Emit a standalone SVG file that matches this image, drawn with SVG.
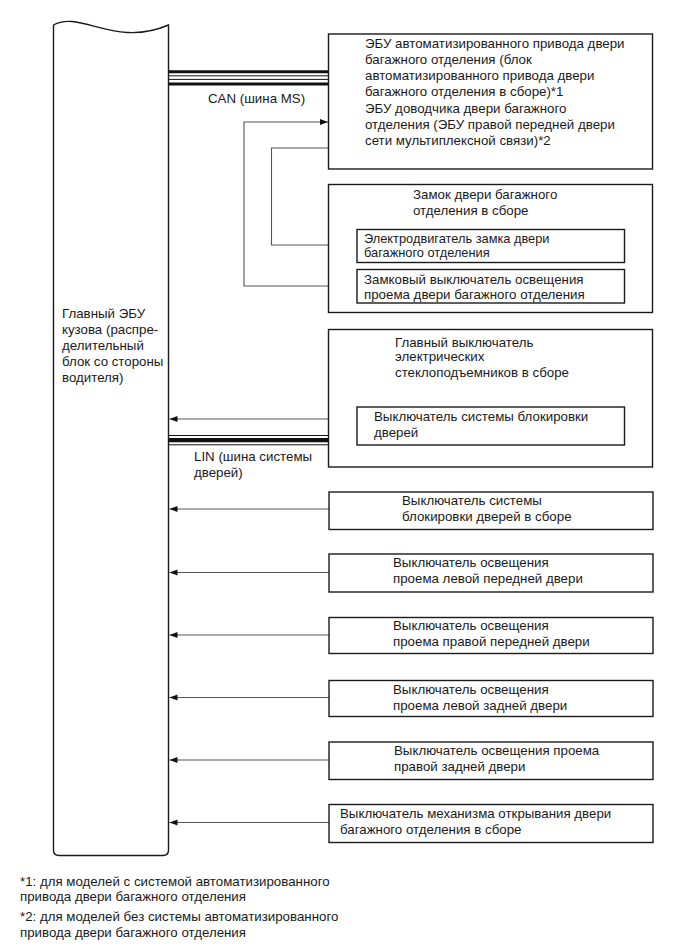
<svg xmlns="http://www.w3.org/2000/svg" width="689" height="951" viewBox="0 0 689 951">
<style>
text{font-family:"Liberation Sans",Arial,sans-serif;font-size:13.3px;fill:#1a1a1a}
.box{fill:#fff;stroke:#1a1a1a;stroke-width:1.4}
.ln{fill:none;stroke:#555;stroke-width:1.1}
.bus{stroke:#111}
.tight{font-size:12.8px}
</style>
<defs>
<marker id="ah" markerUnits="userSpaceOnUse" markerWidth="9" markerHeight="7" refX="8" refY="3.5" orient="auto">
<path d="M0,0.5 L8,3.5 L0,6.5 Z" fill="#111"/>
</marker>
</defs>
<rect width="689" height="951" fill="#fff"/>

<g id="connectors">
<g id="can-bus" class="bus">
<line x1="168.5" y1="71.7" x2="328.5" y2="71.7" stroke-width="3"/>
<line x1="168.5" y1="75.8" x2="328.5" y2="75.8" stroke-width="1"/>
<line x1="168.5" y1="79.4" x2="328.5" y2="79.4" stroke-width="1"/>
<line x1="168.5" y1="84" x2="328.5" y2="84" stroke-width="3"/>
</g>
<g id="lin-bus" class="bus">
<line x1="168.5" y1="435.5" x2="328.5" y2="435.5" stroke-width="1"/>
<line x1="168.5" y1="440.2" x2="328.5" y2="440.2" stroke-width="4.2"/>
<line x1="168.5" y1="444.8" x2="328.5" y2="444.8" stroke-width="1"/>
</g>
<path class="ln" d="M357,286 H244 V122 H328" marker-end="url(#ah)"/>
<path class="ln" d="M328.5,148 H271.5 V245 H356.5" marker-end="url(#ah)"/>
<path class="ln" d="M357,419 H169.5" marker-end="url(#ah)"/>
<path class="ln" d="M329,509 H169.5" marker-end="url(#ah)"/>
<path class="ln" d="M329,572.5 H169.5" marker-end="url(#ah)"/>
<path class="ln" d="M329,635 H169.5" marker-end="url(#ah)"/>
<path class="ln" d="M329,697.5 H169.5" marker-end="url(#ah)"/>
<path class="ln" d="M329,760 H169.5" marker-end="url(#ah)"/>
<path class="ln" d="M329,822.5 H169.5" marker-end="url(#ah)"/>
</g>

<g id="main-ecu">
<path class="box" d="M53.5,25 C80,10 115,48 168.5,25 L168.5,850 Q168.5,855.5 163,855.5 L59,855.5 Q53.5,855.5 53.5,850 Z"/>
<text x="62" y="318">Главный ЭБУ</text>
<text x="62" y="334">кузова (распре-</text>
<text x="62" y="350">делительный</text>
<text x="62" y="366">блок со стороны</text>
<text x="62" y="382">водителя)</text>
</g>

<g id="can-label"><text x="208" y="103">CAN (шина MS)</text></g>
<g id="lin-label">
<text x="194" y="461">LIN (шина системы</text>
<text x="194" y="477">дверей)</text>
</g>

<g id="tailgate-ecu">
<rect class="box" x="328.5" y="34" width="324" height="135"/>
<text x="365" y="48">ЭБУ автоматизированного привода двери</text>
<text x="365" y="64">багажного отделения (блок</text>
<text x="365" y="80">автоматизированного привода двери</text>
<text x="365" y="96">багажного отделения в сборе)*1</text>
<text x="365" y="113">ЭБУ доводчика двери багажного</text>
<text x="365" y="129">отделения (ЭБУ правой передней двери</text>
<text x="365" y="145">сети мультиплексной связи)*2</text>
</g>

<g id="lock-assy">
<rect class="box" x="328.5" y="184.5" width="324" height="128"/>
<text x="413" y="198.5">Замок двери багажного</text>
<text x="413" y="214.5">отделения в сборе</text>
</g>
<g id="lock-motor">
<rect class="box" x="357" y="229.5" width="267.5" height="33"/>
<text class="tight" x="364" y="242.5">Электродвигатель замка двери</text>
<text class="tight" x="364" y="257">багажного отделения</text>
</g>
<g id="lock-courtesy-switch">
<rect class="box" x="357" y="269.5" width="267.5" height="33.5"/>
<text x="364" y="284">Замковый выключатель освещения</text>
<text x="364" y="298.5">проема двери багажного отделения</text>
</g>

<g id="power-window-master">
<rect class="box" x="328.5" y="329.5" width="324" height="137.5"/>
<text x="395" y="347">Главный выключатель</text>
<text x="395" y="361">электрических</text>
<text x="395" y="377">стеклоподъемников в сборе</text>
</g>
<g id="door-lock-control-switch">
<rect class="box" x="357" y="407" width="267.5" height="38"/>
<text x="374" y="421">Выключатель системы блокировки</text>
<text x="374" y="437">дверей</text>
</g>

<g id="door-lock-switch-assy">
<rect class="box" x="329" y="492" width="324" height="37.5"/>
<text x="402" y="504.5">Выключатель системы</text>
<text x="402" y="520.5">блокировки дверей в сборе</text>
</g>
<g id="fl-courtesy">
<rect class="box" x="329" y="554" width="324" height="38"/>
<text x="393" y="567">Выключатель освещения</text>
<text x="393" y="583">проема левой передней двери</text>
</g>
<g id="fr-courtesy">
<rect class="box" x="329" y="617.5" width="324" height="36"/>
<text x="393" y="630">Выключатель освещения</text>
<text x="393" y="646">проема правой передней двери</text>
</g>
<g id="rl-courtesy">
<rect class="box" x="329" y="680.5" width="324" height="36"/>
<text x="393" y="693.5">Выключатель освещения</text>
<text x="393" y="709.5">проема левой задней двери</text>
</g>
<g id="rr-courtesy">
<rect class="box" x="329" y="742" width="324" height="37.5"/>
<text x="394" y="754.5">Выключатель освещения проема</text>
<text x="394" y="770.5">правой задней двери</text>
</g>
<g id="back-door-opener">
<rect class="box" x="329" y="804.5" width="324" height="38"/>
<text x="340" y="817.5">Выключатель механизма открывания двери</text>
<text x="340" y="833.5">багажного отделения в сборе</text>
</g>

<g id="footnotes">
<text x="20" y="886">*1: для моделей с системой автоматизированного</text>
<text x="20" y="901">привода двери багажного отделения</text>
<text x="20" y="921">*2: для моделей без системы автоматизированного</text>
<text x="20" y="936.5">привода двери багажного отделения</text>
</g>
</svg>
